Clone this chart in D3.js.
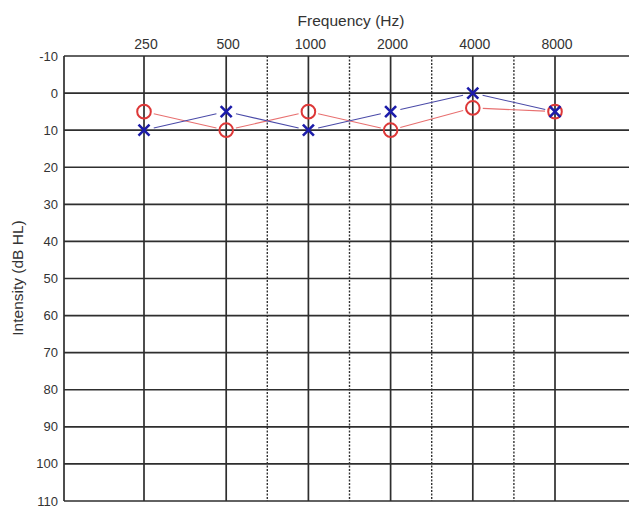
<!DOCTYPE html>
<html><head><meta charset="utf-8">
<script src="https://cdn.jsdelivr.net/npm/d3@7"></script>
<style>
html,body{margin:0;padding:0;background:#fff;}
svg{display:block;font-family:"Liberation Sans",Arial,sans-serif;}
</style></head>
<body>
<svg id="chart" width="629" height="508"></svg>
<script>
const freqs = [250, 500, 1000, 2000, 4000, 8000];
const midFreqs = [750, 1500, 3000, 6000];
const dbTicks = [-10, 0, 10, 20, 30, 40, 50, 60, 70, 80, 90, 100, 110];
const rightEar = [5, 10, 5, 10, 4, 5];   // red O
const leftEar = [10, 5, 10, 5, 0, 5];    // blue X

const plotLeft = 64, plotTop = 56, plotBottom = 501, plotRight = 629;
const svg = d3.select("#chart");

const x = d3.scaleLog().base(2).domain([250, 8000]).range([144, 555]);
const y = d3.scaleLinear().domain([-10, 110]).range([plotTop, plotBottom]);
// inter-octave lines drawn halfway between the neighbouring octave lines
const xMid = f => (x(f * 2 / 3) + x(f * 4 / 3)) / 2;

const gridColor = "#2e2e2e";

// horizontal grid lines
svg.append("g").selectAll("line").data(dbTicks).join("line")
  .attr("x1", plotLeft).attr("x2", plotRight)
  .attr("y1", d => y(d)).attr("y2", d => y(d))
  .attr("stroke", gridColor).attr("stroke-width", 1.7);

// dotted inter-octave lines
svg.append("g").selectAll("line").data(midFreqs).join("line")
  .attr("x1", d => xMid(d)).attr("x2", d => xMid(d))
  .attr("y1", plotTop).attr("y2", plotBottom)
  .attr("stroke", "#333").attr("stroke-width", 1.4)
  .attr("stroke-dasharray", "2,1.5");

// solid octave lines
svg.append("g").selectAll("line").data(freqs).join("line")
  .attr("x1", d => x(d)).attr("x2", d => x(d))
  .attr("y1", plotTop).attr("y2", plotBottom)
  .attr("stroke", gridColor).attr("stroke-width", 1.7);

// left axis line
svg.append("line").attr("x1", plotLeft).attr("x2", plotLeft).attr("y1", plotTop).attr("y2", plotBottom)
  .attr("stroke", gridColor).attr("stroke-width", 1.7);

// y tick labels
svg.append("g").selectAll("text").data(dbTicks).join("text")
  .attr("x", plotLeft - 6).attr("y", d => y(d) + 4.5)
  .attr("text-anchor", "end").attr("font-size", 13).attr("fill", "#333")
  .text(d => d);

// top tick labels
svg.append("g").selectAll("text").data(freqs).join("text")
  .attr("x", d => x(d) + 2).attr("y", 49)
  .attr("text-anchor", "middle").attr("font-size", 14).attr("fill", "#333")
  .text(d => d);

// titles
svg.append("text").attr("x", 351).attr("y", 26).attr("text-anchor", "middle")
  .attr("font-size", 15.5).attr("fill", "#333").text("Frequency (Hz)");
svg.append("text").attr("transform", "translate(23,278) rotate(-90)")
  .attr("text-anchor", "middle").attr("font-size", 15.5).attr("fill", "#333")
  .text("Intensity (dB HL)");

// connecting lines with gaps around markers
function segs(vals) {
  const pts = freqs.map((f, i) => [x(f), y(vals[i])]);
  const out = [];
  for (let i = 0; i < pts.length - 1; i++) {
    const [x1, y1] = pts[i], [x2, y2] = pts[i + 1];
    const L = Math.hypot(x2 - x1, y2 - y1), g = 10;
    const ux = (x2 - x1) / L, uy = (y2 - y1) / L;
    out.push([x1 + ux * g, y1 + uy * g, x2 - ux * g, y2 - uy * g]);
  }
  return out;
}
svg.append("g").selectAll("line").data(segs(rightEar)).join("line")
  .attr("x1", d => d[0]).attr("y1", d => d[1]).attr("x2", d => d[2]).attr("y2", d => d[3])
  .attr("stroke", "#e87070").attr("stroke-width", 1.1);
svg.append("g").selectAll("line").data(segs(leftEar)).join("line")
  .attr("x1", d => d[0]).attr("y1", d => d[1]).attr("x2", d => d[2]).attr("y2", d => d[3])
  .attr("stroke", "#4a4aa8").attr("stroke-width", 1.1);

// red circles
svg.append("g").selectAll("circle").data(rightEar).join("circle")
  .attr("cx", (d, i) => x(freqs[i])).attr("cy", d => y(d)).attr("r", 6.8)
  .attr("fill", "none").attr("stroke", "#dd3838").attr("stroke-width", 2);

// blue X
const s = 5.5;
svg.append("g").selectAll("path").data(leftEar).join("path")
  .attr("d", (d, i) => {
    const cx = x(freqs[i]), cy = y(d);
    return `M${cx - s},${cy - s}L${cx + s},${cy + s}M${cx - s},${cy + s}L${cx + s},${cy - s}`;
  })
  .attr("fill", "none").attr("stroke", "#1c1caa").attr("stroke-width", 2.6);
</script>
</body></html>
